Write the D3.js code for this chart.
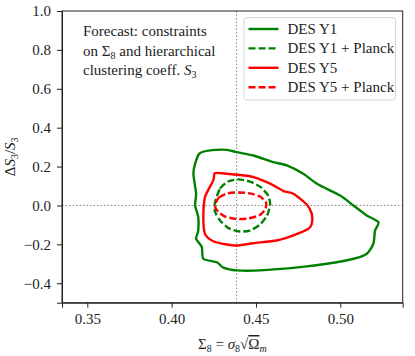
<!DOCTYPE html>
<html>
<head>
<meta charset="UTF-8">
<script src="https://d3js.org/d3.v7.min.js"></script>
<style>
    body{margin:0;background:#fff;}
    .domain,.tick line{stroke:#222;stroke-width:1;}
</style>
</head>
<body>
<div id="container"></div>
<script>
    // contour points (Sigma_8, dS3/S3)
    var y1_x=[0.4164,0.4228,0.4327,0.4386,0.4485,0.4603,0.4683,0.4781,0.4861,0.4999,0.5078,0.5157,0.5226,0.5206,0.5196,0.5157,0.5078,0.4920,0.4762,0.4524,0.4386,0.4307,0.4268,0.4188,0.4179,0.4145,0.4158,0.4158,0.4139,0.4145,0.4129,0.4139]
    var y1_y=[0.266,0.283,0.286,0.274,0.257,0.223,0.206,0.163,0.112,0.051,0.000,-0.051,-0.086,-0.129,-0.197,-0.248,-0.274,-0.300,-0.317,-0.334,-0.334,-0.320,-0.292,-0.274,-0.214,-0.171,-0.129,-0.060,0.000,0.060,0.163,0.214]
    var y1p_x=[0.4257,0.4287,0.4335,0.4394,0.4465,0.4530,0.4572,0.4584,0.4566,0.4524,0.4465,0.4406,0.4340,0.4287,0.4257]
    var y1p_y=[0.015,0.087,0.123,0.134,0.123,0.093,0.051,0.005,-0.051,-0.098,-0.129,-0.134,-0.118,-0.077,-0.031]
    var y5_x=[0.4257,0.4327,0.4386,0.4485,0.4584,0.4663,0.4722,0.4801,0.4831,0.4831,0.4811,0.4722,0.4623,0.4485,0.4386,0.4327,0.4247,0.4198,0.4188,0.4198,0.4247]
    var y5_y=[0.166,0.163,0.158,0.146,0.112,0.074,0.060,0.005,-0.043,-0.094,-0.120,-0.154,-0.180,-0.194,-0.206,-0.201,-0.184,-0.146,-0.060,0.043,0.129]
    var y5p_x=[0.4257,0.4281,0.4329,0.4394,0.4465,0.4524,0.4560,0.4554,0.4518,0.4453,0.4382,0.4317,0.4275]
    var y5p_y=[0.000,0.041,0.062,0.067,0.062,0.046,0.015,-0.021,-0.051,-0.067,-0.069,-0.057,-0.031]
    var labels=['DES Y1','DES Y1 + Planck','DES Y5','DES Y5 + Planck']
    var colors=['#008000','#008000','#ff0000','#ff0000']
    var dashed=[false,true,false,true]
    var fid_x=0.4385, fid_y=0

    var FONT="'Liberation Serif', serif"
    var width=415,height=356,margin={left:62,top:11,right:12.3,bottom:53.3}
    var g_width=width-margin.left-margin.right,
        g_height=height-margin.top-margin.bottom

    var scale_x=d3.scaleLinear().domain([0.335,0.537]).range([0,g_width])
    var scale_y=d3.scaleLinear().domain([-0.5,1.0]).range([g_height,0])

    var svg=d3.select('#container').append('svg')
        .attr('width',width).attr('height',height)
    var g=svg.append('g')
        .attr('transform','translate('+margin.left+','+margin.top+')')

    // fiducial lines
    g.append('line')
        .attr('x1',scale_x(fid_x)).attr('x2',scale_x(fid_x))
        .attr('y1',0).attr('y2',g_height)
        .attr('stroke','#888').attr('stroke-width',1).attr('stroke-dasharray','1.5,2')
    g.append('line')
        .attr('x1',0).attr('x2',g_width)
        .attr('y1',scale_y(fid_y)).attr('y2',scale_y(fid_y))
        .attr('stroke','#888').attr('stroke-width',1).attr('stroke-dasharray','1.5,2')

    // contours
    var line=d3.line()
        .x(function(d){return scale_x(d[0])})
        .y(function(d){return scale_y(d[1])})
        .curve(d3.curveCardinalClosed.tension(0.3))
    var sets=[[y1_x,y1_y],[y1p_x,y1p_y],[y5_x,y5_y],[y5p_x,y5p_y]]
    sets.forEach(function(s,i){
        var pts=s[0].map(function(x,j){return [x,s[1][j]]})
        g.append('path')
            .attr('d',line(pts))
            .attr('fill','none')
            .attr('stroke',colors[i])
            .attr('stroke-width',2.4)
            .attr('stroke-dasharray',dashed[i]?'7,3':null)
    })

    // axes
    var xAxis=d3.axisBottom(scale_x).tickValues([0.35,0.40,0.45,0.50])
        .tickFormat(d3.format('.2f')).tickSize(5).tickPadding(6)
    var yAxis=d3.axisLeft(scale_y).tickValues([-0.4,-0.2,0,0.2,0.4,0.6,0.8,1.0])
        .tickFormat(d3.format('.1f')).tickSize(5).tickPadding(6)
    g.append('g').attr('transform','translate(0,'+g_height+')').call(xAxis)
    g.append('g').call(yAxis)
    g.selectAll('.tick text').attr('fill','#222')
        .style('font-family',FONT).style('font-size','15px')
    g.append('rect').attr('width',g_width).attr('height',g_height)
        .attr('fill','none').attr('stroke','#222').attr('stroke-width',1)

    // annotation
    var ann=g.append('text').attr('x',21).attr('y',25)
        .style('font-family',FONT).style('font-size','15px').attr('fill','#222')
    ann.append('tspan').text('Forecast: constraints')
    var l2=ann.append('tspan').attr('x',21).attr('dy',19.5).text('on Σ')
    l2.append('tspan').attr('dy',3).style('font-size','10px').text('8')
    l2.append('tspan').attr('dy',-3).text(' and hierarchical')
    var l3=ann.append('tspan').attr('x',21).attr('dy',19.5).text('clustering coeff.  ')
    l3.append('tspan').style('font-style','italic').text('S')
    l3.append('tspan').attr('dy',3).style('font-size','10px').text('3')

    // legend
    var leg=g.append('g').attr('transform','translate(182,6.5)')
    leg.append('rect').attr('width',151.5).attr('height',82.5).attr('rx',3)
        .attr('fill','#fff').attr('fill-opacity',0.8).attr('stroke','#d6d6d6')
    labels.forEach(function(t,i){
        var yy=11.5+i*19.4
        leg.append('line').attr('x1',4.5).attr('x2',34.5).attr('y1',yy).attr('y2',yy)
            .attr('stroke',colors[i]).attr('stroke-width',2.4)
            .attr('stroke-dasharray',dashed[i]?'7,3':null)
        leg.append('text').attr('x',43.5).attr('y',yy+5).attr('fill','#222')
            .style('font-family',FONT).style('font-size','15px').text(t)
    })

    // axis labels
    var xl=svg.append('text').attr('x',margin.left+g_width/2).attr('y',349)
        .attr('text-anchor','middle').attr('fill','#222')
        .style('font-family',FONT).style('font-size','15px')
    xl.append('tspan').text('Σ')
    xl.append('tspan').attr('dy',3).style('font-size','10px').text('8')
    xl.append('tspan').attr('dy',-3).text(' = ')
    xl.append('tspan').style('font-style','italic').text('σ')
    xl.append('tspan').attr('dy',3).style('font-size','10px').text('8')
    xl.append('tspan').attr('dy',-3).text('√')
    xl.append('tspan').style('text-decoration','overline').text('Ω')
    xl.append('tspan').attr('dy',3).style('font-size','10px').style('font-style','italic').text('m')

    var yl=svg.append('text').attr('transform','translate(15,'+(margin.top+g_height/2)+') rotate(-90)')
        .attr('text-anchor','middle').attr('fill','#222')
        .style('font-family',FONT).style('font-size','15px')
    yl.append('tspan').text('Δ')
    yl.append('tspan').style('font-style','italic').text('S')
    yl.append('tspan').attr('dy',3).style('font-size','10px').text('3')
    yl.append('tspan').attr('dy',-3).text('/')
    yl.append('tspan').style('font-style','italic').text('S')
    yl.append('tspan').attr('dy',3).style('font-size','10px').text('3')
</script>
</body>
</html>
